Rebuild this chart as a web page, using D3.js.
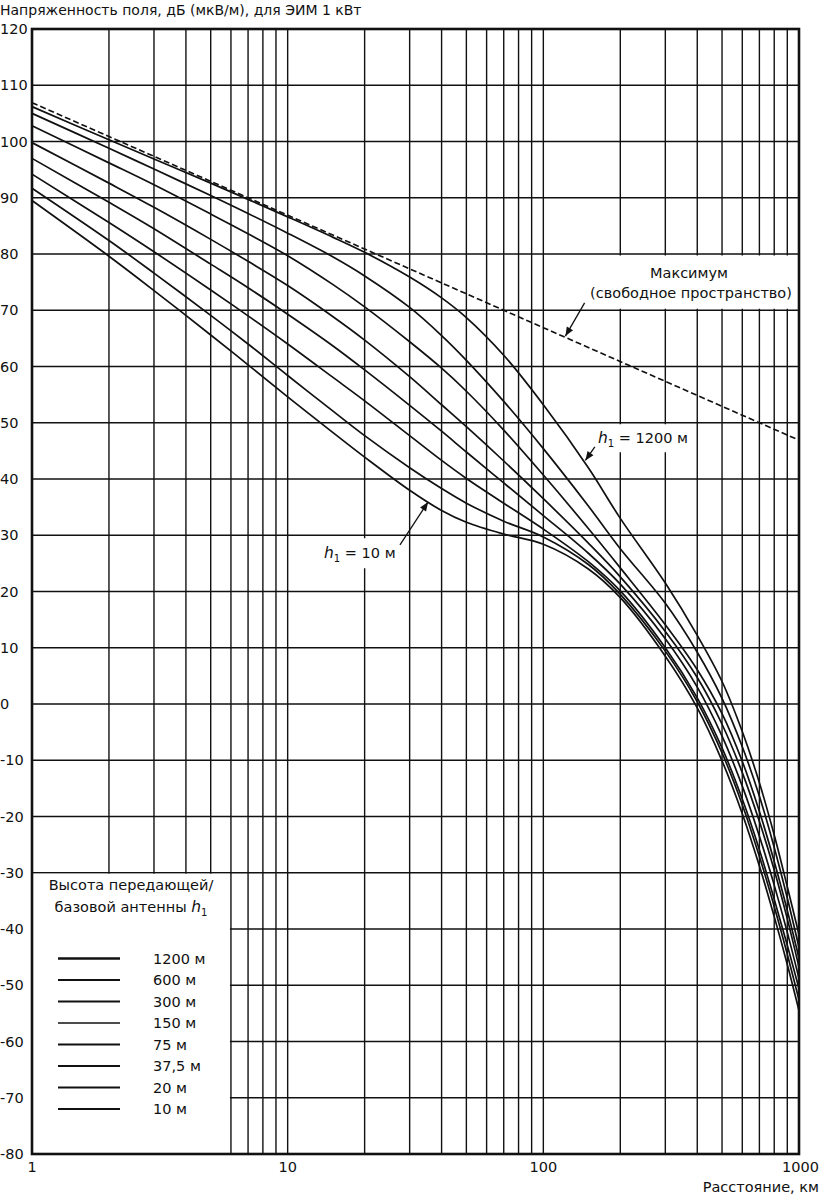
<!DOCTYPE html>
<html>
<head>
<meta charset="utf-8">
<script src="https://cdn.jsdelivr.net/npm/d3@7"></script>
<style>
	body { margin: 0; background: #fff; }
	text { font-family: "DejaVu Sans", "Liberation Sans", Arial, sans-serif; fill: #111; }
	.grid line { stroke: #111; stroke-width: 1.4; }
	.curve { fill: none; stroke: #111; stroke-width: 1.7; }
	.fs { fill: none; stroke: #111; stroke-width: 1.6; stroke-dasharray: 6,3; }
</style>
</head>
<body>
<svg id="chart" width="819" height="1196"></svg>
<script>
// расстояния, км
var distances = [1, 2, 3, 5, 7, 10, 15, 20, 30, 40, 50, 70, 100, 150, 200, 300, 400, 500, 600, 700, 800, 900, 1000];

// напряженность поля, дБ(мкВ/м), по высотам антенны
var e1200 = [106.2, 100.3, 96.9, 92.6, 89.7, 86.6, 83.0, 80.3, 75.9, 72.2, 68.7, 62.0, 53.2, 42.0, 33.0, 21.5, 12.2, 4.0, -4.9, -14.0, -23.3, -32.5, -41.0];
var e600  = [105.0, 98.8, 95.1, 90.4, 87.2, 83.7, 79.5, 76.1, 70.5, 65.5, 61.1, 53.8, 45.4, 35.2, 27.6, 17.9, 9.2, 1.0, -7.6, -16.4, -25.5, -34.5, -43.3];
var e300  = [102.8, 96.2, 92.3, 87.1, 83.6, 79.7, 74.6, 70.6, 64.4, 59.7, 55.6, 48.7, 40.7, 31.2, 24.2, 14.1, 6.1, -1.7, -10.2, -19.1, -28.0, -36.7, -45.2];
var e150  = [99.8, 92.6, 88.3, 82.6, 78.7, 74.4, 68.9, 64.7, 58.2, 53.2, 49.3, 43.2, 36.5, 28.6, 22.6, 12.9, 4.7, -3.6, -12.2, -20.9, -29.5, -38.2, -46.8];
var e75   = [97.0, 89.2, 84.5, 78.2, 74.0, 69.3, 63.7, 59.4, 53.1, 48.5, 44.8, 39.3, 33.5, 26.8, 21.3, 11.6, 3.0, -5.7, -14.6, -23.5, -32.2, -40.6, -48.8];
var e37   = [94.2, 85.6, 80.4, 73.6, 69.0, 64.0, 58.1, 53.9, 47.7, 43.3, 40.1, 35.7, 31.1, 25.3, 20.1, 10.0, 1.1, -7.8, -16.9, -25.9, -34.7, -42.9, -50.6];
var e20   = [91.7, 82.4, 76.6, 69.1, 64.0, 58.4, 52.1, 47.7, 42.0, 38.3, 35.7, 32.5, 29.7, 24.8, 19.5, 9.4, 0.4, -8.7, -17.9, -27.1, -36.0, -44.5, -52.6];
var e10   = [89.5, 79.6, 73.5, 65.6, 60.3, 54.6, 48.3, 43.9, 38.0, 34.4, 32.3, 30.2, 28.4, 24.0, 18.9, 8.5, -0.7, -10.1, -19.5, -28.8, -37.8, -46.3, -54.5];

// свободное пространство (прямая в лог. масштабе)
var fsDist = [1, 1000];
var fsField = [106.9, 46.9];

var heightLabels = ["1200 м", "600 м", "300 м", "150 м", "75 м", "37,5 м", "20 м", "10 м"];
var series = [e1200, e600, e300, e150, e75, e37, e20, e10];
var legendWidths = [2.4, 2.1, 2.1, 1.4, 1.8, 2.0, 1.9, 1.8];

var yTicks = d3.range(-80, 121, 10);
var xTickLabels = [1, 10, 100, 1000];

function drawChart(){
	var svg = d3.select("#chart"),
		pLeft = 32, pRight = 799, pTop = 29, pBottom = 1154,
		fz = "14.5px";

	var x = d3.scaleLog().domain([1, 1000]).range([pLeft, pRight]);
	var y = d3.scaleLinear().domain([-80, 120]).range([pBottom, pTop]);

	// сетка
	var xGrid = [];
	[1, 10, 100].forEach(function(dec){
		for (var k = 1; k <= 9; k++) xGrid.push(dec * k);
	});
	xGrid.push(1000);

	var grid = svg.append("g").attr("class", "grid");
	grid.selectAll(".v").data(xGrid).enter().append("line")
		.attr("x1", function(d){ return x(d); })
		.attr("x2", function(d){ return x(d); })
		.attr("y1", pTop).attr("y2", pBottom);
	grid.selectAll(".h").data(yTicks).enter().append("line")
		.attr("x1", pLeft).attr("x2", pRight)
		.attr("y1", function(d){ return y(d); })
		.attr("y2", function(d){ return y(d); });

	// белые подложки под надписями
	svg.append("rect")
		.attr("x", x(1) + 1).attr("y", y(-30) + 1)
		.attr("width", x(6) - x(1) - 2).attr("height", y(-80) - y(-30) - 2)
		.attr("fill", "#fff");
	svg.append("rect")
		.attr("x", 584).attr("y", y(80) + 1.5)
		.attr("width", x(950) - 584).attr("height", y(70) - y(80) - 3)
		.attr("fill", "#fff");
	svg.append("rect")
		.attr("x", 596).attr("y", y(50) + 1.5)
		.attr("width", 96).attr("height", 28)
		.attr("fill", "#fff");
	svg.append("rect")
		.attr("x", 320).attr("y", y(30) + 3)
		.attr("width", 82).attr("height", 30)
		.attr("fill", "#fff");

	// рамка
	svg.append("rect")
		.attr("x", pLeft).attr("y", pTop)
		.attr("width", pRight - pLeft).attr("height", pBottom - pTop)
		.attr("fill", "none").attr("stroke", "#111").attr("stroke-width", 2.6);

	// кривые
	var line = d3.line()
		.x(function(d){ return x(d[0]); })
		.y(function(d){ return y(d[1]); })
		.curve(d3.curveCatmullRom.alpha(0.5));

	var plot = svg.append("g");
	series.forEach(function(s){
		plot.append("path")
			.attr("class", "curve")
			.attr("d", line(distances.map(function(d, i){ return [d, s[i]]; })));
	});

	plot.append("path")
		.attr("class", "fs")
		.attr("d", line(fsDist.map(function(d, i){ return [d, fsField[i]]; })));

	// подписи осей
	svg.append("g").selectAll("text").data(yTicks).enter().append("text")
		.attr("x", 0)
		.attr("y", function(d){ return y(d); })
		.attr("dy", "0.36em")
		.style("font-size", fz)
		.text(function(d){ return d; });

	svg.append("g").selectAll("text").data(xTickLabels).enter().append("text")
		.attr("x", function(d){ return d == 1000 ? 819 : x(d); })
		.attr("y", 1172)
		.attr("text-anchor", function(d){ return d == 1000 ? "end" : "middle"; })
		.style("font-size", fz)
		.text(function(d){ return d; });

	svg.append("text")
		.attr("x", 819).attr("y", 1192)
		.attr("text-anchor", "end")
		.style("font-size", fz)
		.text("Расстояние, км");

	svg.append("text")
		.attr("x", 0).attr("y", 15)
		.style("font-size", "14px")
		.text("Напряженность поля, дБ (мкВ/м), для ЭИМ 1 кВт");

	// стрелки
	svg.append("defs").append("marker")
		.attr("id", "arr")
		.attr("viewBox", "0 0 10 10")
		.attr("refX", 10).attr("refY", 5)
		.attr("markerWidth", 10).attr("markerHeight", 9)
		.attr("markerUnits", "userSpaceOnUse")
		.attr("orient", "auto")
		.append("path").attr("d", "M0,1 L10,5 L0,9 Z").attr("fill", "#111");

	function arrow(d0, e0, d1, e1){
		svg.append("line")
			.attr("x1", x(d0)).attr("y1", y(e0))
			.attr("x2", x(d1)).attr("y2", y(e1))
			.attr("stroke", "#111").attr("stroke-width", 1.3)
			.attr("marker-end", "url(#arr)");
	}
	arrow(145, 71.3, 122, 65.4);
	arrow(159, 45.7, 146, 43.3);
	arrow(27.5, 28.3, 35.4, 35.9);

	function hLabel(px, py, rest){
		var t = svg.append("text").attr("x", px).attr("y", py).style("font-size", fz);
		t.append("tspan").style("font-style", "italic").style("font-size", "15.5px").text("h");
		t.append("tspan").attr("dy", 4).style("font-size", "10px").text("1");
		t.append("tspan").attr("dy", -4).text(rest);
		return t;
	}

	svg.append("text")
		.attr("x", 689).attr("y", 278)
		.attr("text-anchor", "middle")
		.style("font-size", fz)
		.text("Максимум");
	svg.append("text")
		.attr("x", 691).attr("y", 298)
		.attr("text-anchor", "middle")
		.style("font-size", fz)
		.text("(свободное пространство)");

	hLabel(598, 443, " = 1200 м");
	hLabel(324, 558, " = 10 м");

	// легенда
	var legend = svg.append("g");
	legend.append("text")
		.attr("x", 131).attr("y", 890)
		.attr("text-anchor", "middle")
		.style("font-size", fz)
		.text("Высота передающей/");
	var lt = legend.append("text")
		.attr("x", 131).attr("y", 912)
		.attr("text-anchor", "middle")
		.style("font-size", fz);
	lt.append("tspan").text("базовой антенны ");
	lt.append("tspan").style("font-style", "italic").style("font-size", "15.5px").text("h");
	lt.append("tspan").attr("dy", 4).style("font-size", "10px").text("1");

	var rows = legend.selectAll(".row").data(heightLabels).enter().append("g")
		.attr("transform", function(d, i){ return "translate(0," + (958.5 + i * 21.5) + ")"; });
	rows.append("line")
		.attr("x1", 58).attr("x2", 120)
		.attr("stroke", "#111")
		.attr("stroke-width", function(d, i){ return legendWidths[i]; });
	rows.append("text")
		.attr("x", 153).attr("dy", "0.36em")
		.style("font-size", fz)
		.text(function(d){ return d; });
}

drawChart();
</script>
</body>
</html>
